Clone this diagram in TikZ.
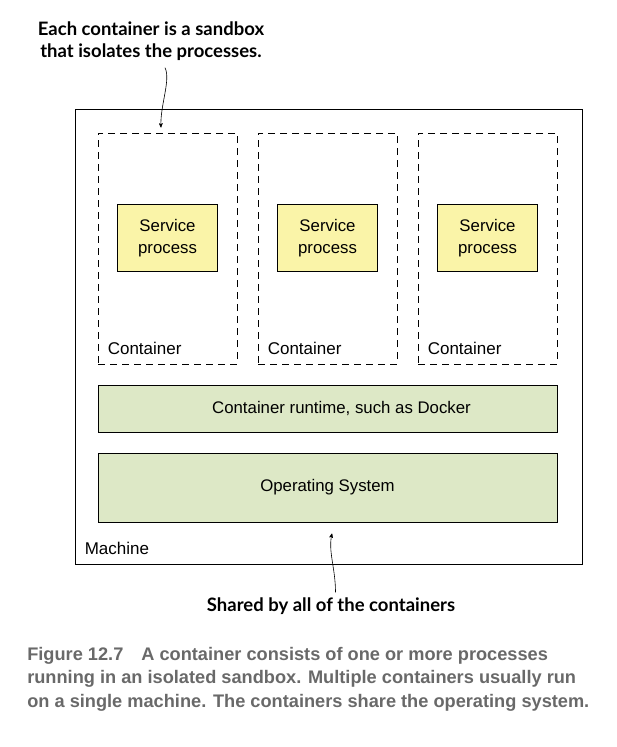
\documentclass[tikz,border=0pt]{standalone}
\usepackage{fontspec}
\setmainfont{Liberation Sans}
\newfontfamily\notefont{Lato}
\newfontfamily\capfont{Liberation Sans}
\usepackage{xcolor}
\usepackage{tikz}
\usetikzlibrary{arrows,positioning,calc}
\definecolor{procyellow}{RGB}{250,244,168}
\definecolor{layergreen}{RGB}{221,232,198}
\definecolor{capgray}{RGB}{105,105,105}

\begin{document}
\begin{tikzpicture}[x=1pt,y=-1pt,->,>=stealth',semithick,node distance=160pt]
	\tikzstyle{box}=[draw=black,line width=1pt,inner sep=0pt,font=\fontsize{16.8}{22}\selectfont]
	\tikzstyle{machine}=[box,minimum width=507pt,minimum height=455pt]
	\tikzstyle{sandbox}=[box,dash pattern=on 7pt off 5pt,minimum width=139pt,minimum height=231pt]
	\tikzstyle{proc}=[box,fill=procyellow,align=center,minimum width=100pt,minimum height=67.5pt]
	\tikzstyle{layer}=[box,fill=layergreen,minimum width=459pt]
	\tikzstyle{lbl}=[inner sep=0pt,anchor=base west,font=\fontsize{17}{20}\selectfont]
	\tikzstyle{note}=[inner sep=0pt,align=center,font=\notefont\bfseries\fontsize{18.5}{22}\selectfont]
	\useasboundingbox (0,0) rectangle (616,747);
	
	\node[machine] (M) at (328.5,336.5) {};
	\node[sandbox] (C1) at (167.5,248.5) {};
	\node[sandbox] (C2)[right of = C1] {};
	\node[sandbox] (C3)[right of = C2] {};
	\node[proc] (P1) at ([yshift=10.5pt]C1) {Service\\process};
	\node[proc] (P2) at ([yshift=10.5pt]C2) {Service\\process};
	\node[proc] (P3) at ([yshift=10.5pt]C3) {Service\\process};
	\node[lbl] (L1) at ([xshift=10pt,yshift=10pt]C1.south west) {Container};
	\node[lbl] (L2) at ([xshift=10pt,yshift=10pt]C2.south west) {Container};
	\node[lbl] (L3) at ([xshift=10pt,yshift=10pt]C3.south west) {Container};
	\node[layer,minimum height=47pt] (RT) at (327.5,408.5) {\hspace*{28pt}Container runtime, such as Docker};
	\node[layer,minimum height=69pt] (OS) at (327.5,487.5) {Operating System};
	\node[lbl] (LM) at ([xshift=10pt,yshift=10pt]M.south west) {Machine};
	
	\node[note] (N1) at (151,41) {Each container is a sandbox\\ that isolates the processes.};
	\node[note] (N2) at (331,606) {Shared by all of the containers};
	
	\draw ([xshift=14pt,yshift=-7pt]N1.south) .. controls +(6,12) and +(-1,-22) .. ([xshift=-6.5pt,yshift=5pt]C1.north);
	\draw ([xshift=4.5pt,yshift=5pt]N2.north) .. controls +(0,-24) and +(-4,18) .. ([xshift=4.5pt,yshift=-11pt]OS.south);
	
	\node[inner sep=0pt,anchor=north west,align=left,text=capgray,font=\capfont\bfseries\fontsize{18.2}{23.5}\selectfont] (CAP) at (27,647)
	{Figure 12.7\hspace{18pt}A container consists of one or more processes\\
	running in an isolated sandbox. Multiple containers usually run\\
	on a single machine. The containers share the operating system.};
\end{tikzpicture}
\end{document}
